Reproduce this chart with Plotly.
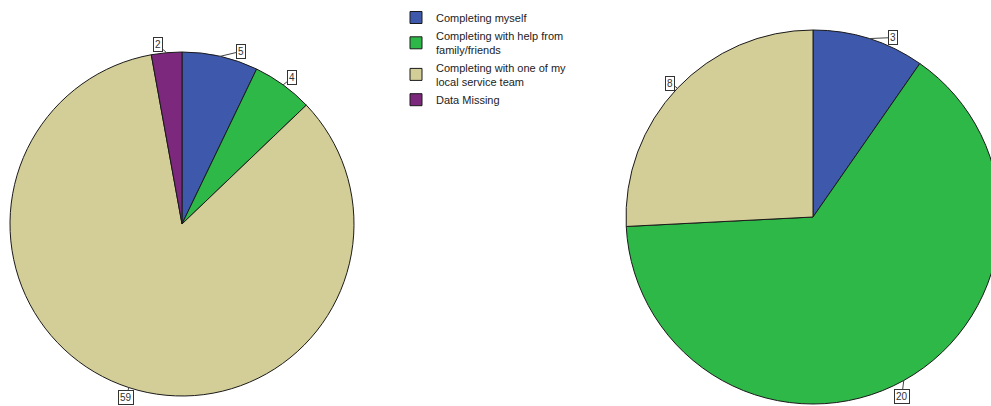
import math
import plotly.graph_objects as go

# Response categories and their counts for the two groups
categories = [
    "Completing myself",
    "Completing with help from<br>family/friends",
    "Completing with one of my<br>local service team",
    "Data Missing",
]
left_counts = [5, 4, 59, 2]
right_categories = categories[:3]
right_counts = [3, 20, 8]

palette = {
    categories[0]: "#3e58ac",
    categories[1]: "#2eb848",
    categories[2]: "#d3ce97",
    categories[3]: "#7c287d",
}

W, H = 1010, 406
# pie geometry in pixels: centre x, centre y, radius
LEFT = (182, 224, 172)
RIGHT = (813, 217, 187)


def domain(cx, cy, r):
    return dict(x=[(cx - r) / W, (cx + r) / W],
                y=[(H - cy - r) / H, (H - cy + r) / H])


fig = go.Figure()
for labels, counts, geom, show in [
    (categories, left_counts, LEFT, True),
    (right_categories, right_counts, RIGHT, False),
]:
    fig.add_trace(go.Pie(
        labels=labels,
        values=counts,
        sort=False,
        direction="clockwise",
        rotation=0,
        textinfo="none",
        hoverinfo="label+value",
        marker=dict(colors=[palette[c] for c in labels],
                    line=dict(color="#1a1a1a", width=1)),
        domain=domain(*geom),
        showlegend=show,
    ))

# boxed count labels attached to the rim of each slice
offsets_left = [(21, -5), (9, -7), (-3, 10), (-9, -8)]
offsets_right = [(24, -1), (-2, 16), (-7, -5)]


def rim_labels(counts, geom, offsets):
    cx, cy, r = geom
    total = sum(counts)
    start = 0.0
    out = []
    for v, (dx, dy) in zip(counts, offsets):
        mid = (start + v / 2) / total * 2 * math.pi
        start += v
        px = cx + r * math.sin(mid)
        py = cy - r * math.cos(mid)
        out.append(dict(
            x=px / W, y=(H - py) / H, xref="paper", yref="paper",
            text=str(v), showarrow=True, ax=dx, ay=dy,
            arrowhead=0, arrowwidth=1, arrowcolor="#444", standoff=0,
            bgcolor="white", bordercolor="#333", borderwidth=1, borderpad=1,
            font=dict(family="Liberation Sans, Arial, sans-serif", size=10, color="#333"),
        ))
    return out


annotations = rim_labels(left_counts, LEFT, offsets_left) + \
    rim_labels(right_counts, RIGHT, offsets_right)

fig.update_layout(
    width=W, height=H,
    margin=dict(l=0, r=0, t=0, b=0),
    paper_bgcolor="white", plot_bgcolor="white",
    annotations=annotations,
    legend=dict(
        x=396 / W, y=1 - 3 / H, xanchor="left", yanchor="top",
        font=dict(family="Liberation Sans, Arial, sans-serif", size=11, color="#222"),
        tracegroupgap=0, itemclick=False,
    ),
)

fig.write_html(
    "out.html",
    post_script="document.body.style.margin='0';"
                "document.body.style.overflow='hidden';"
                "document.documentElement.style.overflow='hidden';",
)
